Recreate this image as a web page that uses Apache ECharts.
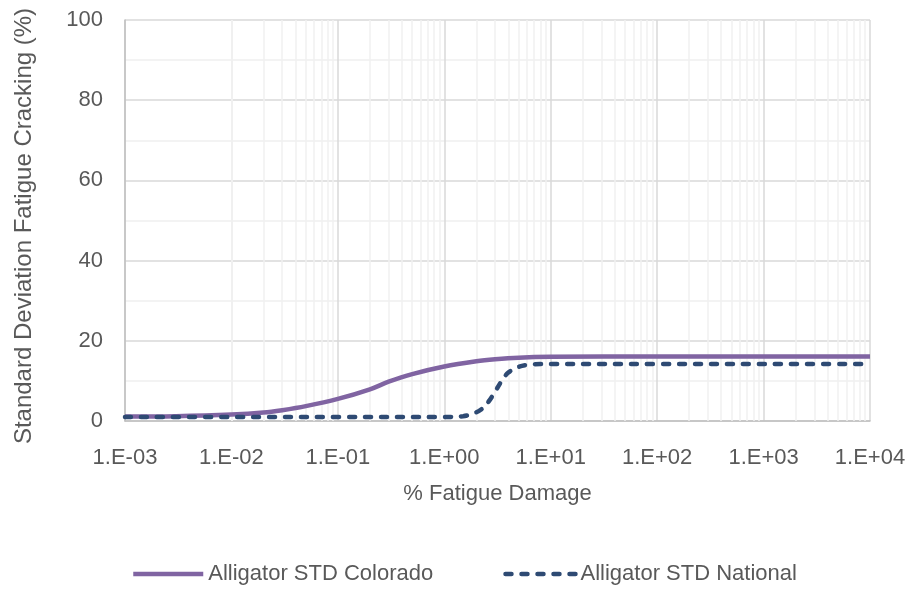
<!DOCTYPE html>
<html><head><meta charset="utf-8">
<script src="https://cdn.jsdelivr.net/npm/echarts@6/dist/echarts.min.js"></script>
<style>html,body{margin:0;padding:0;background:#fff}#c{width:909px;height:590px}</style>
</head><body><div id="c"></div>
<script>
// Data
const coloradoX = [0.001, 0.003, 0.01, 0.02, 0.03, 0.05, 0.1, 0.2, 0.3, 0.5, 1, 2, 3, 5, 10, 100, 1000, 10000];
const coloradoY = [1.1, 1.2, 1.6, 2.1, 2.7, 3.7, 5.5, 7.9, 9.8, 11.7, 13.6, 14.9, 15.4, 15.8, 16.0, 16.1, 16.1, 16.1];
const nationalX = [0.001, 0.01, 0.1, 1, 1.5, 1.8, 2.2, 2.6, 3, 3.5, 4, 5, 6, 8, 10, 100, 1000, 10000];
const nationalY = [1.0, 1.0, 1.0, 1.0, 1.2, 1.7, 2.8, 4.8, 7.3, 10.2, 12.1, 13.5, 14.0, 14.2, 14.2, 14.2, 14.2, 14.2];
const xTickLabels = ['1.E-03', '1.E-02', '1.E-01', '1.E+00', '1.E+01', '1.E+02', '1.E+03', '1.E+04'];
const yTicks = [0, 20, 40, 60, 80, 100];
const minorMultipliers = [2, 3, 4, 5, 6, 7, 8, 9];
const seriesNames = ['Alligator STD Colorado', 'Alligator STD National'];

const FONT = '"Liberation Sans", Arial, sans-serif';
const TXT = '#595959';

const minorLines = [];
for (let e = -3; e < 4; e++) {
  minorMultipliers.forEach(m => minorLines.push({ xAxis: m * Math.pow(10, e) }));
}

const chart = echarts.init(document.getElementById('c'));
chart.setOption({
  backgroundColor: '#fff',
  animation: false,
  textStyle: { fontFamily: FONT },
  grid: { left: 125, right: 39, top: 20, bottom: 169, containLabel: false },
  legend: {
    left: 131, top: 563, padding: 0,
    itemWidth: 70, itemHeight: 4, itemGap: 70,
    itemStyle: { opacity: 0 },
    lineStyle: { width: 4.5 },
    textStyle: { fontFamily: FONT, fontSize: 22, color: TXT },
    data: seriesNames
  },
  xAxis: {
    type: 'log', logBase: 10, min: 0.001, max: 10000,
    name: '% Fatigue Damage', nameLocation: 'middle', nameGap: 62,
    nameTextStyle: { fontFamily: FONT, fontSize: 22, color: TXT },
    axisLine: { show: true, lineStyle: { color: '#bfbfbf', width: 1.5 } },
    axisTick: { show: false },
    axisLabel: {
      margin: 26, fontFamily: FONT, fontSize: 22, color: TXT,
      formatter: v => xTickLabels[Math.round(Math.log10(v)) + 3]
    },
    splitLine: { show: true, lineStyle: { color: '#d9d9d9', width: 1.5 } },
    minorTick: { show: false }, minorSplitLine: { show: false }
  },
  yAxis: {
    type: 'value', min: yTicks[0], max: yTicks[yTicks.length - 1], interval: 20,
    name: 'Standard Deviation Fatigue Cracking (%)', nameLocation: 'middle', nameGap: 89,
    nameTextStyle: { fontFamily: FONT, fontSize: 24, color: TXT, padding: [0, 11, 0, 0] },
    axisLine: { show: true, lineStyle: { color: '#bfbfbf', width: 1.5 } },
    axisTick: { show: false },
    axisLabel: { margin: 22, fontFamily: FONT, fontSize: 22, color: TXT },
    splitLine: { show: true, lineStyle: { color: '#d9d9d9', width: 1.5 } },
    minorTick: { show: false, splitNumber: 2 },
    minorSplitLine: { show: true, lineStyle: { color: '#f0f0f0', width: 1.5 } }
  },
  series: [
    {
      name: '__minor', type: 'line', data: [], z: 1, silent: true,
      markLine: {
        z: 1, silent: true, symbol: 'none', label: { show: false },
        lineStyle: { color: '#f0f0f0', width: 1.5, type: 'solid' },
        emphasis: { disabled: true },
        data: minorLines
      }
    },
    {
      name: seriesNames[0], type: 'line', z: 3,
      data: coloradoX.map((x, i) => [x, coloradoY[i]]),
      symbol: 'none', smooth: 0.35,
      itemStyle: { color: '#8064a2' },
      lineStyle: { color: '#8064a2', width: 4.5 }
    },
    {
      name: seriesNames[1], type: 'line', z: 4,
      data: nationalX.map((x, i) => [x, nationalY[i]]),
      symbol: 'none', smooth: 0.35,
      itemStyle: { color: '#2e4a73' },
      lineStyle: { color: '#2e4a73', width: 4.5, type: [6, 10], cap: 'round' }
    }
  ]
});
</script>
</body></html>
